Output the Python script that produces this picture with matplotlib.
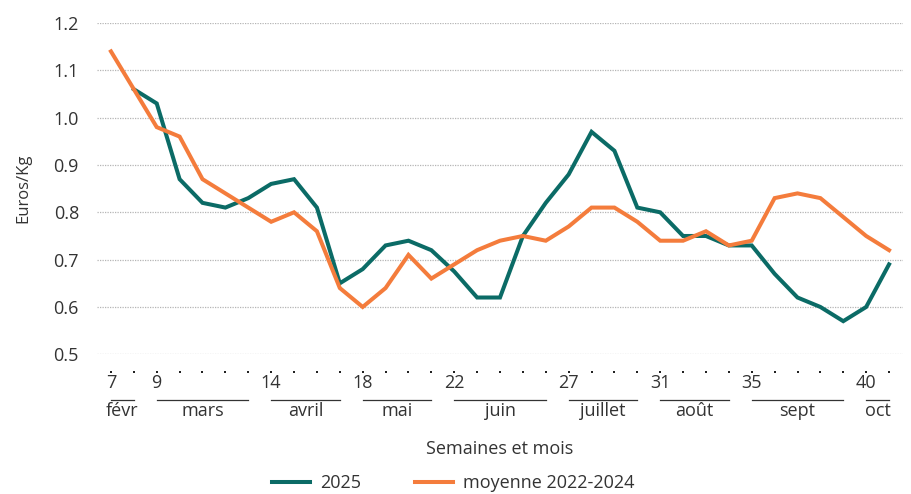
import numpy as np
import matplotlib
matplotlib.use("Agg")
import matplotlib.pyplot as plt
from matplotlib.transforms import blended_transform_factory

weeks = list(range(7, 42))
serie_2025 = [np.nan, 1.06, 1.03, 0.87, 0.82, 0.81, 0.83, 0.86, 0.87, 0.81,
              0.65, 0.68, 0.73, 0.74, 0.72, 0.675, 0.62, 0.62, 0.75, 0.82,
              0.88, 0.97, 0.93, 0.81, 0.80, 0.75, 0.75, 0.73, 0.73, 0.67,
              0.62, 0.60, 0.57, 0.60, 0.69]
moyenne = [1.14, 1.06, 0.98, 0.96, 0.87, 0.84, 0.81, 0.78, 0.80, 0.76,
           0.64, 0.60, 0.64, 0.71, 0.66, 0.69, 0.72, 0.74, 0.75, 0.74,
           0.77, 0.81, 0.81, 0.78, 0.74, 0.74, 0.76, 0.73, 0.74, 0.83,
           0.84, 0.83, 0.79, 0.75, 0.72]
label_weeks = [7, 9, 14, 18, 22, 27, 31, 35, 40]
months = ["févr", "mars", "avril", "mai", "juin", "juillet", "août", "sept", "oct"]
month_start = [7, 9, 14, 18, 22, 27, 31, 35, 40]
month_end = [8, 13, 17, 21, 26, 30, 34, 39, 41]
yticks = [0.5, 0.6, 0.7, 0.8, 0.9, 1.0, 1.1, 1.2]

GREEN = "#0b6b66"
ORANGE = "#f47c3c"
TXT = "#333333"
FS = 13

plt.rcParams["font.family"] = ["Open Sans", "DejaVu Sans"]

fig = plt.figure(figsize=(9.11, 4.94), dpi=100)
ax = fig.add_axes([97/911, 1-354.3/494, 806/911, 331.3/494])

ax.plot(weeks, serie_2025, color=GREEN, lw=2.9, label="2025", zorder=3,
        solid_joinstyle="miter")
ax.plot(weeks, moyenne, color=ORANGE, lw=2.9, label="moyenne 2022-2024", zorder=4,
        solid_joinstyle="miter")

ax.set_ylim(0.5, 1.2)
ax.set_xlim(6.39, 41.61)
ax.set_yticks(yticks)
ax.set_yticklabels([f"{v:.1f}" for v in yticks], fontsize=FS, color=TXT)
ax.tick_params(axis="y", length=0, pad=13)
ax.grid(axis="y", color="#b5b5b5", ls=(0, (1, 1)), lw=0.9)
ax.set_axisbelow(True)
for s in ax.spines.values():
    s.set_visible(False)

ax.set_xticks([])
tr = blended_transform_factory(ax.transData, ax.transAxes)
ax.plot(weeks, [-0.0534] * len(weeks), transform=tr, ls="none", marker="s",
        ms=2.0, mew=0, color="#222222", clip_on=False)
for w in label_weeks:
    ax.text(w, -0.087, str(w), transform=tr, ha="center", va="center",
            fontsize=FS, color=TXT)
for m, a, b in zip(months, month_start, month_end):
    ax.plot([a, b], [-0.138, -0.138], transform=tr, color=TXT, lw=0.9,
            clip_on=False)
    ax.text((a + b) / 2, -0.172, m, transform=tr, ha="center", va="center",
            fontsize=FS, color=TXT)

ax.text(0.5, -0.286, "Semaines et mois", transform=ax.transAxes, ha="center",
        va="center", fontsize=FS, color=TXT)
ax.text(-0.0918, 0.5, "Euros/Kg", transform=ax.transAxes, ha="center",
        va="center", rotation=90, fontsize=12, color=TXT)

leg = ax.legend(loc="center", bbox_to_anchor=(0.442, -0.388), ncol=2,
                frameon=False, fontsize=FS, handlelength=2.1, handletextpad=0.55,
                columnspacing=3.0)
for t in leg.get_texts():
    t.set_color(TXT)

fig.savefig("out.png", dpi=100)
